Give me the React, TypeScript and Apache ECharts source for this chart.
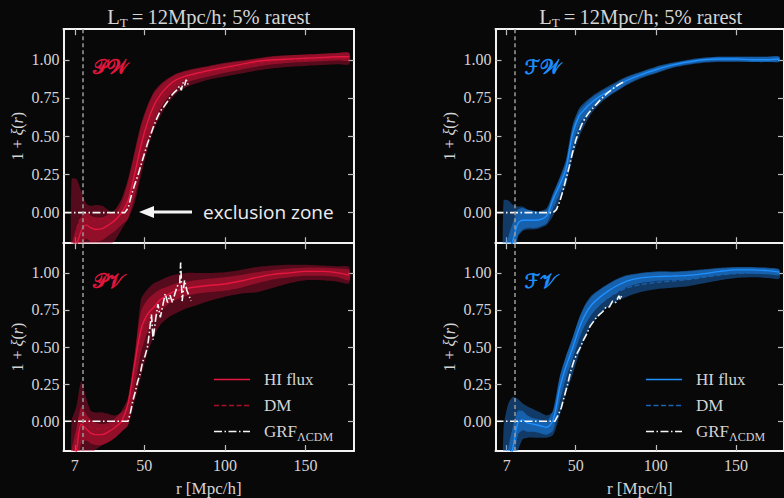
import React, { useEffect, useRef } from 'react';
import * as echarts from 'echarts';

const W = 784;
const H = 498;
const BG = '#080808';
const SERIF = '"Liberation Serif", "DejaVu Serif", serif';
const FRAME = '#f2f2f2';
const TICK = '#bdbdbd';
const LABEL = '#d4d4d4';

// shared radial grid of the HI-flux / DM curves (Mpc/h)
const R = [5, 8, 11, 14, 17, 20, 24, 28, 32, 36, 40, 44, 48, 52, 56, 60, 65, 70, 76, 82, 90, 100, 110, 120, 130, 140, 150, 160, 170, 177];
const xTicks = [7, 50, 100, 150];
const yTicks = [0, 0.25, 0.5, 0.75, 1];
const L_T = 12;

// ---- PW (top-left) ----
const pwHI = [-0.36, -0.22, -0.12, -0.08, -0.10, -0.11, -0.105, -0.08, -0.05, 0.00, 0.08, 0.25, 0.44, 0.59, 0.70, 0.77, 0.83, 0.87, 0.895, 0.91, 0.93, 0.95, 0.97, 0.99, 1.00, 1.005, 1.01, 1.015, 1.02, 1.02];
const pwHIhi = [-0.22, -0.10, -0.03, 0.00, -0.02, -0.03, -0.03, -0.01, 0.02, 0.09, 0.22, 0.40, 0.58, 0.70, 0.79, 0.84, 0.88, 0.91, 0.93, 0.945, 0.96, 0.98, 0.995, 1.01, 1.025, 1.03, 1.035, 1.04, 1.045, 1.045];
const pwHIlo = [-0.50, -0.36, -0.22, -0.17, -0.19, -0.19, -0.18, -0.15, -0.12, -0.08, -0.04, 0.10, 0.28, 0.45, 0.58, 0.68, 0.76, 0.81, 0.85, 0.87, 0.89, 0.915, 0.935, 0.955, 0.97, 0.98, 0.985, 0.99, 0.995, 0.995];
const pwDM = [-0.30, -0.12, -0.04, -0.04, -0.06, -0.05, -0.04, -0.05, -0.04, 0.00, 0.06, 0.22, 0.40, 0.55, 0.66, 0.74, 0.80, 0.85, 0.88, 0.90, 0.92, 0.94, 0.96, 0.98, 0.99, 1.00, 1.00, 1.005, 1.01, 1.01];
const pwDMhi = [0.22, 0.22, 0.14, 0.06, 0.045, 0.05, 0.045, 0.015, -0.01, 0.06, 0.20, 0.38, 0.56, 0.69, 0.78, 0.83, 0.875, 0.905, 0.925, 0.94, 0.955, 0.975, 0.99, 1.005, 1.02, 1.03, 1.035, 1.04, 1.045, 1.045];
const pwDMlo = [-0.55, -0.45, -0.35, -0.30, -0.30, -0.28, -0.25, -0.22, -0.18, -0.11, -0.04, 0.06, 0.24, 0.41, 0.54, 0.63, 0.72, 0.78, 0.82, 0.845, 0.87, 0.89, 0.91, 0.93, 0.945, 0.955, 0.96, 0.965, 0.97, 0.97];
const pwGrfR = [0, 38, 40, 42, 44, 46, 48, 50, 52, 54, 56, 58, 60, 62, 64, 66, 68, 70, 72, 73, 74, 75, 76, 77, 78];
const pwGrf = [0, 0, 0.03, 0.11, 0.18, 0.24, 0.31, 0.38, 0.45, 0.51, 0.57, 0.62, 0.665, 0.69, 0.72, 0.755, 0.78, 0.80, 0.83, 0.80, 0.85, 0.83, 0.87, 0.84, 0.86];

// ---- PV (bottom-left) ----
const pvHI = [-0.35, -0.20, -0.02, -0.05, -0.08, -0.09, -0.09, -0.07, -0.04, 0.00, 0.12, 0.38, 0.62, 0.72, 0.77, 0.82, 0.855, 0.88, 0.895, 0.905, 0.915, 0.925, 0.945, 0.97, 0.99, 1.00, 1.01, 1.01, 1.00, 0.985];
const pvHIhi = [-0.20, -0.05, 0.10, 0.05, 0.01, -0.01, -0.02, -0.01, 0.02, 0.07, 0.16, 0.45, 0.74, 0.82, 0.86, 0.89, 0.91, 0.93, 0.94, 0.95, 0.96, 0.97, 0.985, 1.005, 1.02, 1.03, 1.035, 1.035, 1.03, 1.02];
const pvHIlo = [-0.50, -0.35, -0.15, -0.13, -0.15, -0.16, -0.16, -0.14, -0.11, -0.07, -0.02, 0.22, 0.46, 0.60, 0.68, 0.74, 0.79, 0.82, 0.845, 0.86, 0.87, 0.88, 0.90, 0.93, 0.955, 0.97, 0.98, 0.98, 0.97, 0.95];
const pvDM = [-0.30, -0.10, 0.05, 0.00, -0.04, -0.05, -0.05, -0.04, -0.02, 0.01, 0.10, 0.33, 0.58, 0.70, 0.76, 0.81, 0.85, 0.88, 0.90, 0.91, 0.92, 0.93, 0.95, 0.97, 0.99, 1.00, 1.01, 1.01, 1.00, 0.985];
const pvDMhi = [0.00, 0.10, 0.27, 0.16, 0.07, 0.06, 0.06, 0.05, 0.04, 0.06, 0.10, 0.40, 0.82, 0.89, 0.93, 0.95, 0.975, 0.99, 1.00, 1.00, 1.00, 1.005, 1.02, 1.04, 1.05, 1.055, 1.055, 1.05, 1.045, 1.04];
const pvDMlo = [-0.55, -0.45, -0.32, -0.26, -0.22, -0.19, -0.16, -0.14, -0.11, -0.07, -0.03, 0.13, 0.30, 0.46, 0.57, 0.65, 0.70, 0.73, 0.76, 0.78, 0.81, 0.84, 0.86, 0.87, 0.90, 0.93, 0.95, 0.95, 0.94, 0.93];
const pvGrfR = [0, 40, 41.5, 43, 44.5, 46, 47.5, 49, 50.5, 52, 53, 54.5, 55.5, 57, 58.5, 60, 61.5, 63, 64.5, 66, 67.5, 69, 70.5, 72, 72.6, 73.5, 75, 76.5, 78, 79];
const pvGrf = [0, 0, 0.06, 0.14, 0.20, 0.27, 0.32, 0.40, 0.44, 0.50, 0.58, 0.72, 0.55, 0.68, 0.79, 0.70, 0.78, 0.86, 0.80, 0.85, 0.80, 0.86, 0.91, 0.93, 1.07, 0.81, 0.95, 0.88, 0.84, 0.81];

// ---- FW (top-right) ----
const fwHI = [-0.40, -0.30, -0.18, -0.07, -0.05, -0.05, -0.05, -0.045, -0.02, 0.09, 0.18, 0.29, 0.51, 0.63, 0.68, 0.72, 0.76, 0.79, 0.83, 0.865, 0.90, 0.935, 0.965, 0.985, 1.0, 1.005, 1.005, 1.0, 1.0, 1.005];
const fwHIhi = [-0.28, -0.16, -0.06, 0.02, 0.03, 0.02, 0.01, 0.01, 0.03, 0.13, 0.23, 0.35, 0.57, 0.68, 0.725, 0.76, 0.795, 0.825, 0.86, 0.89, 0.92, 0.955, 0.98, 1.0, 1.015, 1.02, 1.02, 1.02, 1.02, 1.02];
const fwHIlo = [-0.52, -0.44, -0.30, -0.15, -0.11, -0.10, -0.10, -0.09, -0.07, 0.03, 0.13, 0.23, 0.43, 0.57, 0.635, 0.68, 0.725, 0.76, 0.80, 0.84, 0.88, 0.915, 0.95, 0.97, 0.985, 0.99, 0.99, 0.985, 0.985, 0.99];
const fwDM = [-0.40, -0.30, -0.16, -0.06, -0.05, -0.05, -0.05, -0.04, -0.03, 0.04, 0.13, 0.24, 0.42, 0.55, 0.63, 0.69, 0.74, 0.78, 0.82, 0.855, 0.89, 0.93, 0.96, 0.98, 0.995, 1.0, 1.0, 1.0, 1.0, 1.005];
const fwDMhi = [0.08, 0.08, 0.05, 0.04, 0.04, 0.02, 0.01, 0.00, 0.01, 0.12, 0.22, 0.33, 0.55, 0.66, 0.71, 0.75, 0.785, 0.815, 0.85, 0.885, 0.915, 0.95, 0.975, 0.995, 1.01, 1.02, 1.02, 1.02, 1.02, 1.02];
const fwDMlo = [-0.55, -0.50, -0.35, -0.16, -0.12, -0.11, -0.11, -0.10, -0.08, -0.02, 0.08, 0.18, 0.36, 0.49, 0.58, 0.65, 0.71, 0.755, 0.795, 0.835, 0.875, 0.91, 0.945, 0.965, 0.98, 0.985, 0.985, 0.985, 0.985, 0.985];
const fwGrfR = [0, 36, 38, 40, 42, 44, 46, 48, 50, 52, 54, 56, 58, 60, 63, 66, 69, 72, 75, 78, 80];
const fwGrf = [0, 0, 0.02, 0.07, 0.14, 0.22, 0.30, 0.39, 0.47, 0.53, 0.58, 0.62, 0.65, 0.675, 0.71, 0.745, 0.775, 0.80, 0.825, 0.845, 0.855];

// ---- FV (bottom-right) ----
const fvHI = [-0.50, -0.35, -0.17, -0.01, 0.01, -0.01, -0.02, -0.03, -0.04, 0.01, 0.22, 0.37, 0.49, 0.62, 0.72, 0.785, 0.835, 0.875, 0.915, 0.945, 0.965, 0.975, 0.978, 0.983, 0.995, 1.01, 1.02, 1.02, 1.015, 1.005];
const fvHIhi = [-0.35, -0.18, -0.03, 0.07, 0.07, 0.04, 0.02, 0.01, 0.00, 0.08, 0.30, 0.44, 0.56, 0.69, 0.79, 0.85, 0.89, 0.925, 0.96, 0.985, 1.0, 1.01, 1.01, 1.015, 1.025, 1.035, 1.04, 1.04, 1.035, 1.025];
const fvHIlo = [-0.65, -0.50, -0.30, -0.09, -0.06, -0.07, -0.07, -0.08, -0.09, -0.06, 0.13, 0.29, 0.42, 0.55, 0.65, 0.72, 0.78, 0.825, 0.87, 0.905, 0.93, 0.945, 0.95, 0.955, 0.97, 0.985, 0.995, 0.995, 0.99, 0.985];
const fvDM = [-0.45, -0.30, -0.10, 0.00, 0.00, -0.02, -0.03, -0.04, -0.05, -0.02, 0.16, 0.31, 0.44, 0.57, 0.67, 0.74, 0.79, 0.83, 0.87, 0.90, 0.92, 0.935, 0.945, 0.955, 0.97, 0.985, 0.995, 1.0, 1.0, 0.995];
const fvDMhi = [-0.05, 0.12, 0.165, 0.15, 0.12, 0.10, 0.08, 0.06, 0.04, 0.07, 0.29, 0.44, 0.56, 0.69, 0.78, 0.84, 0.885, 0.92, 0.955, 0.98, 0.995, 1.005, 1.005, 1.01, 1.02, 1.03, 1.035, 1.035, 1.03, 1.02];
const fvDMlo = [-0.70, -0.55, -0.40, -0.20, -0.12, -0.11, -0.11, -0.11, -0.11, -0.09, 0.04, 0.19, 0.31, 0.45, 0.57, 0.65, 0.72, 0.77, 0.81, 0.84, 0.87, 0.89, 0.90, 0.91, 0.93, 0.95, 0.965, 0.97, 0.965, 0.96];
const fvGrfR = [0, 37, 39, 41, 43, 45, 47, 49, 51, 53, 55, 57, 59, 61, 63, 65, 67, 69, 71, 73, 75, 77, 78, 79];
const fvGrf = [0, 0, 0.04, 0.09, 0.17, 0.25, 0.34, 0.41, 0.46, 0.50, 0.55, 0.59, 0.64, 0.67, 0.70, 0.72, 0.74, 0.77, 0.77, 0.81, 0.80, 0.845, 0.82, 0.86];

const RED = { hi: '#e3173f', dm: '#a60f2c', hiBand: 'rgba(220,20,60,0.45)', dmBand: 'rgba(180,15,50,0.45)' };
const BLUE = { hi: '#1e90ff', dm: '#1a62b0', hiBand: 'rgba(30,144,255,0.45)', dmBand: 'rgba(30,120,220,0.45)' };

const GW = 290.5;
const GH = 214;
const panels = [
  { left: 63.5, top: 29.2, bottom: false, tag: '\u{1D4AB}\u{1D4B2}', c: RED, hi: pwHI, hiHi: pwHIhi, hiLo: pwHIlo, dm: pwDM, dmHi: pwDMhi, dmLo: pwDMlo, gR: pwGrfR, g: pwGrf },
  { left: 63.5, top: 243.2, bottom: true, tag: '\u{1D4AB}\u{1D4B1}', c: RED, hi: pvHI, hiHi: pvHIhi, hiLo: pvHIlo, dm: pvDM, dmHi: pvDMhi, dmLo: pvDMlo, gR: pvGrfR, g: pvGrf },
  { left: 495.5, top: 29.2, bottom: false, tag: '\u2131\u{1D4B2}', c: BLUE, hi: fwHI, hiHi: fwHIhi, hiLo: fwHIlo, dm: fwDM, dmHi: fwDMhi, dmLo: fwDMlo, gR: fwGrfR, g: fwGrf },
  { left: 495.5, top: 243.2, bottom: true, tag: '\u2131\u{1D4B1}', c: BLUE, hi: fvHI, hiHi: fvHIhi, hiLo: fvHIlo, dm: fvDM, dmHi: fvDMhi, dmLo: fvDMlo, gR: fvGrfR, g: fvGrf },
];

const pts = (xs: number[], ys: number[]) => xs.map((x, k) => [x, ys[k]]);

function buildOption() {
  const grid = panels.map((p) => ({ left: p.left, top: p.top, width: GW, height: GH }));
  const axisLine = { show: true, onZero: false, lineStyle: { color: FRAME, width: 2 } };
  const lab = { color: LABEL, fontSize: 16, fontFamily: SERIF };
  const xAxis: any[] = [];
  const yAxis: any[] = [];
  panels.forEach((p, i) => {
    const xt = { show: true, inside: true, length: 6, customValues: xTicks, lineStyle: { color: TICK, width: 1.2 } };
    const yt = { show: true, inside: true, length: 6, customValues: yTicks, lineStyle: { color: TICK, width: 1.2 } };
    xAxis.push({
      type: 'value', gridIndex: i, min: 0, max: 180, position: 'bottom', axisLine, axisTick: xt,
      axisLabel: { show: p.bottom, customValues: xTicks, margin: 6, ...lab },
      splitLine: { show: false },
      name: p.bottom ? 'r [Mpc/h]' : '', nameLocation: 'middle', nameGap: 29,
      nameTextStyle: { color: LABEL, fontSize: 17, fontFamily: SERIF },
    });
    xAxis.push({
      type: 'value', gridIndex: i, min: 0, max: 180, position: 'top', axisLine, axisTick: xt,
      axisLabel: { show: false }, splitLine: { show: false },
    });
    yAxis.push({
      type: 'value', gridIndex: i, min: -0.2, max: 1.2, position: 'left', axisLine, axisTick: yt,
      axisLabel: { customValues: yTicks, margin: 4, formatter: (v: number) => v.toFixed(2), ...lab },
      splitLine: { show: false },
      name: '1 + {i|\u03BE}({i|r})', nameLocation: 'middle', nameGap: 38,
      nameTextStyle: {
        color: LABEL, fontSize: 16, fontFamily: SERIF,
        rich: { i: { color: LABEL, fontSize: 16, fontFamily: SERIF, fontStyle: 'italic' } },
      },
    });
    yAxis.push({
      type: 'value', gridIndex: i, min: -0.2, max: 1.2, position: 'right', axisLine, axisTick: yt,
      axisLabel: { show: false }, splitLine: { show: false },
    });
  });

  const series: any[] = [];
  panels.forEach((p, i) => {
    const axes = { xAxisIndex: 2 * i, yAxisIndex: 2 * i };
    const base = { type: 'line', ...axes, symbol: 'none', smooth: 0.3, silent: true, emphasis: { disabled: true } };
    const band = (hi: number[], lo: number[], color: string) => {
      series.push({
        type: 'custom', ...axes, silent: true,
        data: R.map((x, k) => [x, lo[k], hi[k]]),
        encode: { x: 0, y: [1, 2] },
        renderItem: (params: any, api: any) => {
          if (params.dataIndex !== 0) return null;
          const upper = R.map((x, k) => api.coord([x, hi[k]]));
          const lower = R.map((x, k) => api.coord([x, lo[k]])).reverse();
          const cs = params.coordSys;
          return {
            type: 'polygon',
            shape: { points: upper.concat(lower), smooth: 0.25 },
            style: { fill: color, stroke: 'none' },
            clipPath: { type: 'rect', shape: { x: cs.x, y: cs.y, width: cs.width, height: cs.height } },
          };
        },
      });
    };
    band(p.dmHi, p.dmLo, p.c.dmBand);
    band(p.hiHi, p.hiLo, p.c.hiBand);
    series.push({ ...base, data: pts(R, p.dm), lineStyle: { color: p.c.dm, width: 1.3, type: [5, 2.5] } });
    series.push({ ...base, data: pts(R, p.hi), lineStyle: { color: p.c.hi, width: 1.4 } });
    series.push({
      ...base, smooth: false, data: pts(p.gR, p.g),
      lineStyle: { color: '#f5f5f5', width: 1.6, type: [8, 2.5, 1.5, 2.5] },
      markLine: {
        silent: true, symbol: ['none', 'none'], label: { show: false },
        lineStyle: { color: '#9a9a9a', width: 1.5, type: [4, 3] },
        data: [{ xAxis: L_T }],
      },
    });
  });

  const txt = (x: number, y: number, text: string, extra: any = {}) => ({
    type: 'text', x, y, silent: true, z: 100,
    style: { text, fill: LABEL, fontSize: 17, fontFamily: SERIF, align: 'left', verticalAlign: 'middle', ...extra },
  });
  const subRich = (size: number, sub: number, pad: number) => ({
    m: { fontSize: size, fontFamily: SERIF, fill: LABEL, color: LABEL },
    s: { fontSize: sub, fontFamily: SERIF, fill: LABEL, color: LABEL, padding: [pad, 0, 0, 0] },
  });

  const graphic: any[] = [];
  [63.5, 495.5].forEach((l) => {
    graphic.push(txt(l + GW / 2, 17, '{m|L}{s|T}{m|\u2009=\u200912Mpc/h; 5% rarest}', {
      align: 'center', fill: '#d8d8d8', rich: subRich(20.5, 13, 10),
    }));
  });
  panels.forEach((p) => {
    graphic.push(txt(p.left + 29, p.top + 38, p.tag, {
      fill: p.c.hi, stroke: p.c.hi, lineWidth: 0.6, fontSize: 20, fontFamily: '"DejaVu Serif", "DejaVu Sans", serif',
    }));
  });
  graphic.push({ type: 'polyline', silent: true, z: 100, shape: { points: [[192, 212], [150, 212]] }, style: { stroke: '#f5f5f5', lineWidth: 3, fill: 'none' } });
  graphic.push({ type: 'polygon', silent: true, z: 100, shape: { points: [[139, 212], [154, 206], [154, 218]] }, style: { fill: '#f5f5f5' } });
  graphic.push(txt(203, 212, 'exclusion zone', { fill: '#eeeeee', fontSize: 19, fontFamily: '"Open Sans", Lato, sans-serif' }));
  panels.filter((p) => p.bottom).forEach((p) => {
    const lx = p.left + 150.5;
    const rows = [
      { y: 379.5, color: p.c.hi, dash: null, label: '{m|HI flux}' },
      { y: 405.5, color: p.c.dm, dash: [5, 2.5], label: '{m|DM}' },
      { y: 431.5, color: '#f5f5f5', dash: [8, 2.5, 1.5, 2.5], label: '{m|GRF}{s|\u039BCDM}' },
    ];
    rows.forEach((r) => {
      graphic.push({
        type: 'line', silent: true, z: 100, shape: { x1: lx, y1: r.y, x2: lx + 36, y2: r.y },
        style: { stroke: r.color, lineWidth: 1.6, lineDash: r.dash || undefined },
      });
      graphic.push(txt(lx + 50, r.y, r.label, { rich: subRich(17, 12, 10) }));
    });
  });

  return { animation: false, backgroundColor: BG, grid, xAxis, yAxis, series, graphic };
}

export default function App() {
  const ref = useRef<HTMLDivElement>(null);
  useEffect(() => {
    document.body.style.margin = '0';
    document.body.style.background = BG;
    const chart = echarts.init(ref.current as HTMLDivElement, null, { renderer: 'svg', width: W, height: H });
    chart.setOption(buildOption() as any);
    return () => chart.dispose();
  }, []);
  return <div ref={ref} style={{ width: W, height: H, background: BG, overflow: 'hidden' }} />;
}
